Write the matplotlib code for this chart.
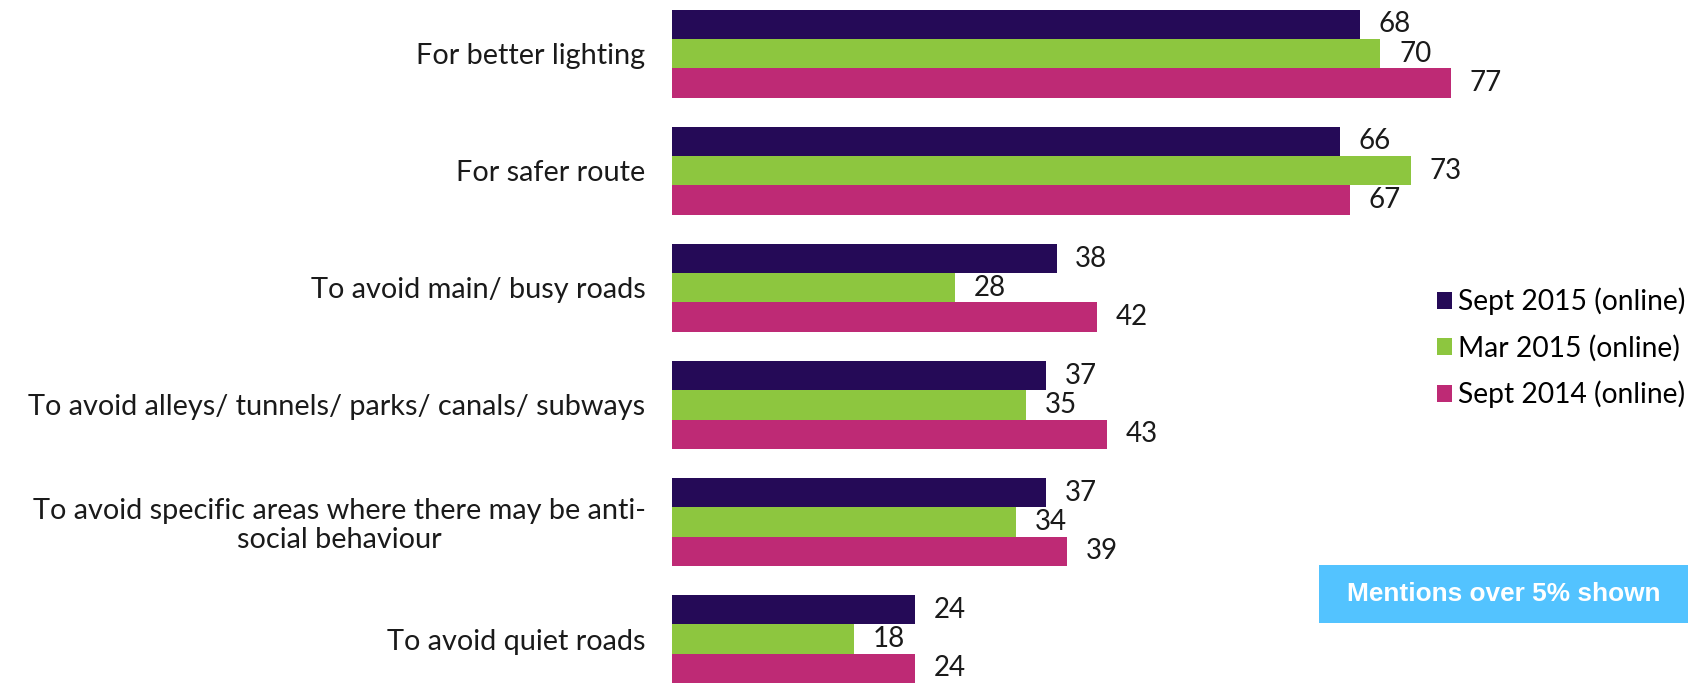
import matplotlib
matplotlib.use("Agg")
import matplotlib.pyplot as plt
from matplotlib.patches import Patch, Rectangle
import numpy as np

plt.rcParams['font.family'] = ['Lato', 'DejaVu Sans']

categories = [
    "For better lighting",
    "For safer route",
    "To avoid main/ busy roads",
    "To avoid alleys/ tunnels/ parks/ canals/ subways",
    "To avoid specific areas where there may be anti-\nsocial behaviour",
    "To avoid quiet roads",
]
series_names = ["Sept 2015 (online)", "Mar 2015 (online)", "Sept 2014 (online)"]
sept_2015 = [68, 66, 38, 37, 37, 24]
mar_2015 = [70, 73, 28, 35, 34, 18]
sept_2014 = [77, 67, 42, 43, 39, 24]
series_values = [sept_2015, mar_2015, sept_2014]
colors = ["#250A57", "#8DC63F", "#BE2A75"]
note_text = "Mentions over 5% shown"

W, H = 1688, 683
fig = plt.figure(figsize=(W / 100, H / 100), dpi=100)
ax = fig.add_axes([672 / W, 0.0, 809.6 / W, 1 - 9.7 / H])

y = np.arange(len(categories))
bar_h = 0.25
text_color = "#1a1a1a"
for i, (vals, col) in enumerate(zip(series_values, colors)):
    pos = y - bar_h + i * bar_h
    ax.barh(pos, vals, height=bar_h, color=col, edgecolor="none")
    for p, v in zip(pos, vals):
        ax.annotate(str(v), (v, p), xytext=(13.5, 0), textcoords="offset points",
                    va="center", ha="left", fontsize=20, color=text_color)

ax.set_xlim(0, 80)
ax.set_ylim(len(categories) - 1 + 0.375, -0.375)
ax.set_yticks(y)
ax.set_yticklabels(categories, fontsize=20.8, color=text_color,
                   multialignment="center", linespacing=1.1)
ax.tick_params(axis="y", length=0, pad=19)
ax.set_xticks([])
for s in ax.spines.values():
    s.set_visible(False)

handles = [Patch(facecolor=c, edgecolor="none") for c in colors]
fig.legend(handles, series_names, loc="upper right", bbox_to_anchor=(1.0, 1 - 285 / H),
           frameon=False, fontsize=20.3, handlelength=0.55, handleheight=0.55,
           handletextpad=0.2, labelspacing=0.68, borderaxespad=0, borderpad=0.1)

fig.patches.append(Rectangle((1319 / W, 1 - 623 / H), (1688 - 1319) / W, 58 / H,
                             transform=fig.transFigure, facecolor="#53C3FF",
                             edgecolor="none"))
fig.text((1319 + 1688) / 2 / W, 1 - 594 / H, note_text, ha="center", va="center",
         color="white", fontsize=18.9, fontweight="bold", family="Liberation Sans")

fig.savefig("out.png", dpi=100)
